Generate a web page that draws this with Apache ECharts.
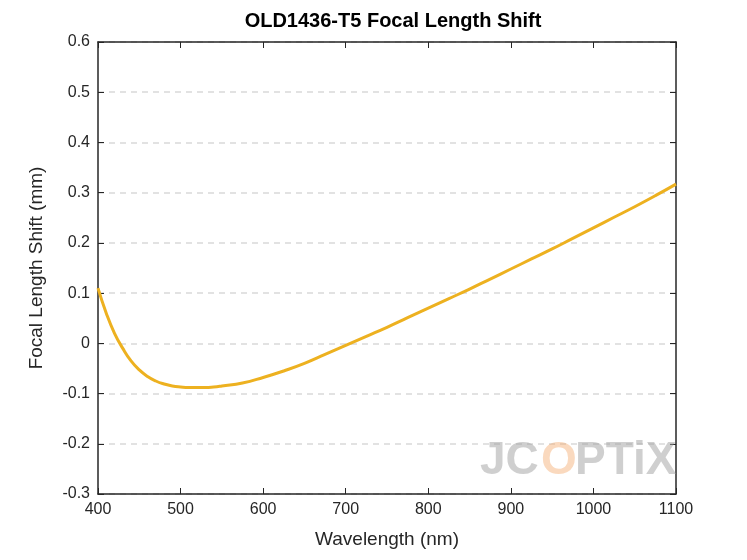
<!DOCTYPE html><html><head><meta charset="utf-8">
<script src="https://cdn.jsdelivr.net/npm/echarts@6/dist/echarts.min.js"></script>
<style>body{margin:0}#c{width:747px;height:560px}</style></head><body><div id="c"></div><script>
const wavelengths=[400,410,420,430,440,450,460,470,480,490,500,510,520,530,540,550,575,600,625,650,675,700,725,750,775,800,825,850,875,900,925,950,975,1000,1025,1050,1075,1100];
const shift=[0.11,0.06,0.02,-0.01,-0.035,-0.053,-0.066,-0.075,-0.081,-0.085,-0.087,-0.088,-0.088,-0.088,-0.087,-0.085,-0.079,-0.068,-0.055,-0.040,-0.022,-0.004,0.014,0.032,0.051,0.070,0.089,0.108,0.128,0.148,0.168,0.188,0.209,0.230,0.251,0.272,0.294,0.317];
const c=echarts.init(document.getElementById('c'));
const ax={color:'#262626',fontSize:16,fontFamily:'Liberation Sans'};
const line={lineStyle:{color:'#262626',width:1.5}};
c.setOption({
title:{text:'OLD1436-T5 Focal Length Shift',left:388,top:6,textAlign:'center',textStyle:{fontSize:20,fontWeight:'bold',color:'#000',fontFamily:'Liberation Sans'}},
grid:{left:98,right:71,top:42,bottom:66},
graphic:[{type:'text',left:480,top:438,z:10,style:{text:'JC',fontSize:46,fontWeight:'bold',fill:'rgba(160,160,160,0.5)',fontFamily:'Liberation Sans'}},
{type:'text',left:541,top:438,z:10,style:{text:'O',fontSize:46,fontWeight:'bold',fill:'rgba(245,170,110,0.45)',fontFamily:'Liberation Sans'}},
{type:'text',left:575,top:438,z:10,style:{text:'PTiX',fontSize:46,fontWeight:'bold',fill:'rgba(160,160,160,0.5)',fontFamily:'Liberation Sans'}}],
xAxis:[{type:'value',min:400,max:1100,interval:100,name:'Wavelength (nm)',nameLocation:'middle',nameGap:36,nameTextStyle:{fontSize:19,color:'#262626',fontFamily:'Liberation Sans'},
axisLine:{onZero:false,...line},axisTick:{inside:true,length:6,lineStyle:{color:'#262626'}},axisLabel:{...ax,formatter:v=>String(v)},splitLine:{show:false}},
{type:'value',position:'top',min:400,max:1100,interval:100,axisLine:{onZero:false,...line},axisTick:{inside:true,length:6,lineStyle:{color:'#262626'}},axisLabel:{show:false},splitLine:{show:false}}],
yAxis:[{type:'value',min:-0.3,max:0.6,interval:0.1,name:'Focal Length Shift (mm)',nameLocation:'middle',nameGap:52,nameTextStyle:{fontSize:19,color:'#262626',fontFamily:'Liberation Sans'},
axisLine:line,axisTick:{inside:true,length:6,lineStyle:{color:'#262626'}},axisLabel:{...ax,formatter:v=>String(Math.round(v*10)/10)},splitLine:{show:true,lineStyle:{type:[6,5],color:'#d9d9d9',width:1.5}}},
{type:'value',position:'right',min:-0.3,max:0.6,interval:0.1,axisLine:line,axisTick:{inside:true,length:6,lineStyle:{color:'#262626'}},axisLabel:{show:false},splitLine:{show:false}}],
series:[{type:'line',data:wavelengths.map((w,i)=>[w,shift[i]]),smooth:0.5,showSymbol:false,lineStyle:{color:'#EDB120',width:3},z:5}]
});
</script></body></html>
